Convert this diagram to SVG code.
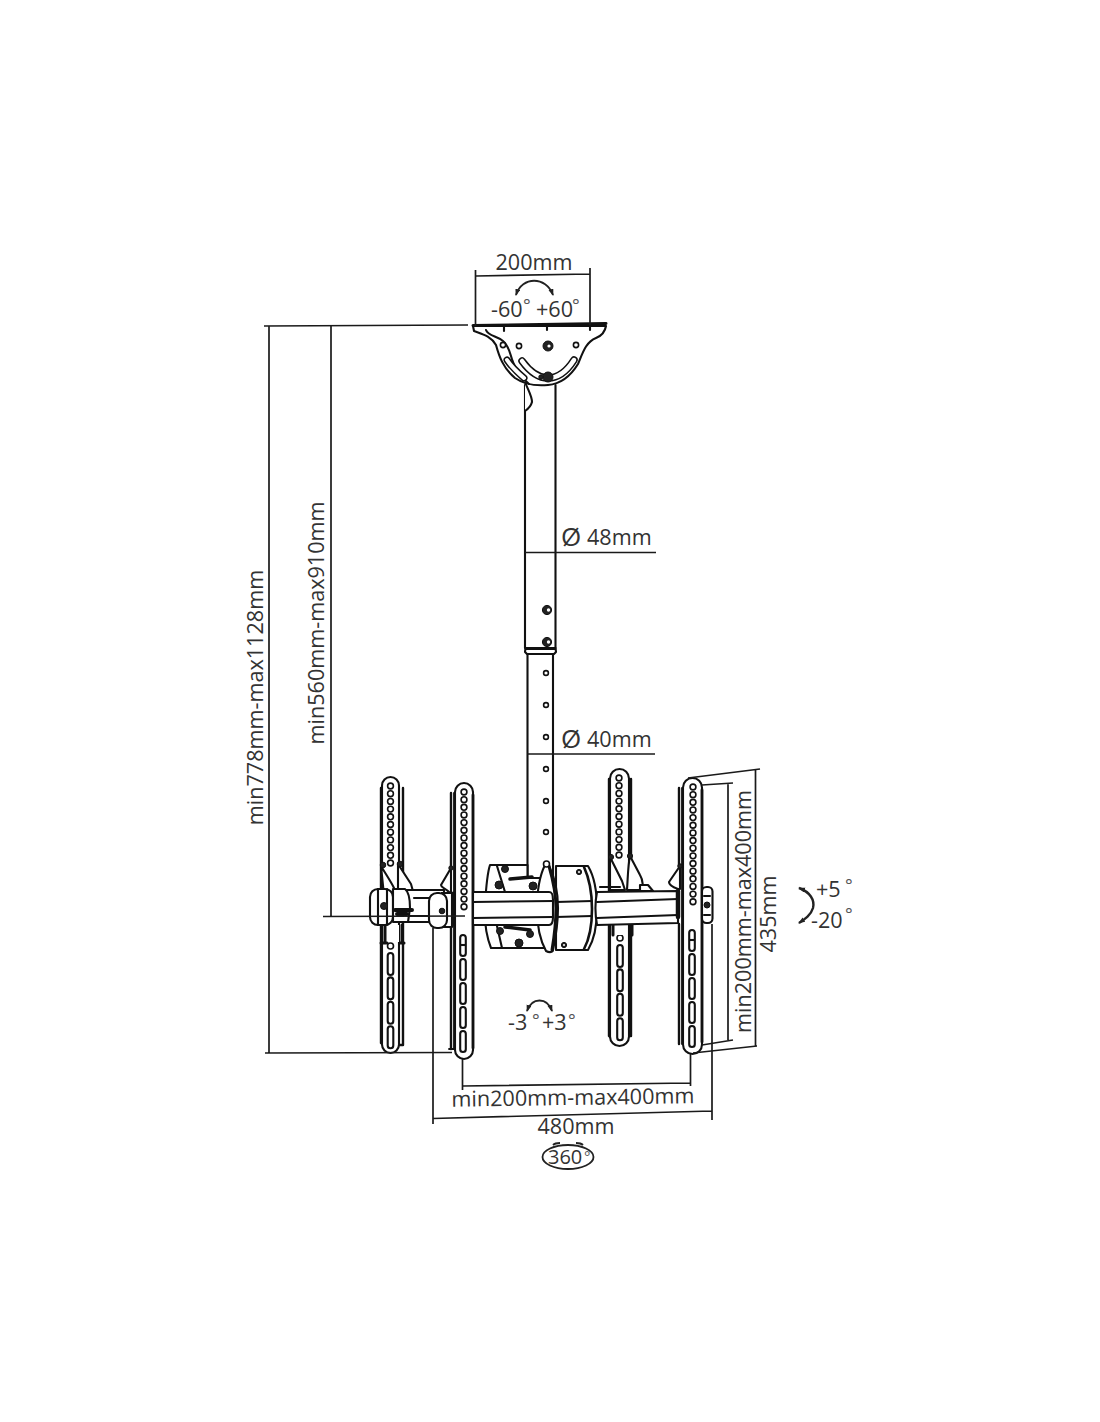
<svg xmlns="http://www.w3.org/2000/svg" width="1100" height="1422" viewBox="0 0 1100 1422">
<style>
.l{fill:none;stroke:#111;stroke-width:2.1;stroke-linecap:round;stroke-linejoin:round}
.t{fill:none;stroke:#111;stroke-width:3;stroke-linecap:round;stroke-linejoin:round}
.w{fill:#fff;stroke:#111;stroke-width:2.1;stroke-linejoin:round}
.d{fill:none;stroke:#1a1a1a;stroke-width:1.7;stroke-linecap:butt}
.h{fill:#fff;stroke:#111;stroke-width:1.6}
.b{fill:#222;stroke:#111;stroke-width:1}
.x{font-family:"Open Sans","Noto Sans",sans-serif;font-size:21.6px;fill:#333}
.o{font-size:18px;fill:#555}
.ar{fill:none;stroke:#222;stroke-width:1.8}
</style>
<defs>
<marker id="ah" markerUnits="userSpaceOnUse" markerWidth="8" markerHeight="6" refX="6" refY="2.5" orient="auto-start-reverse"><path d="M0 0L7 2.5L0 5Z" fill="#222"/></marker>
<g id="row11" class="h"><circle cy="0" r="2.9"/><circle cy="7.7" r="2.9"/><circle cy="15.4" r="2.9"/><circle cy="23.1" r="2.9"/><circle cy="30.8" r="2.9"/><circle cy="38.5" r="2.9"/><circle cy="46.2" r="2.9"/><circle cy="53.9" r="2.9"/><circle cy="61.6" r="2.9"/><circle cy="69.3" r="2.9"/><circle cy="77" r="2.9"/></g>
<g id="row16" class="h"><circle cy="0" r="2.9"/><circle cy="7.65" r="2.9"/><circle cy="15.3" r="2.9"/><circle cy="22.95" r="2.9"/><circle cy="30.6" r="2.9"/><circle cy="38.25" r="2.9"/><circle cy="45.9" r="2.9"/><circle cy="53.55" r="2.9"/><circle cy="61.2" r="2.9"/><circle cy="68.85" r="2.9"/><circle cy="76.5" r="2.9"/><circle cy="84.15" r="2.9"/><circle cy="91.8" r="2.9"/><circle cy="99.45" r="2.9"/><circle cy="107.1" r="2.9"/><circle cy="114.75" r="2.9"/></g>
<g id="slots" class="w"><rect x="-2.8" y="0" width="5.6" height="22" rx="2.8"/><rect x="-2.8" y="24.4" width="5.6" height="22" rx="2.8"/><rect x="-2.8" y="48.800" width="5.6" height="22" rx="2.8"/><rect x="-2.8" y="73.200" width="5.6" height="22" rx="2.8"/></g>
<g id="slotf" class="w"><rect x="-2.8" y="0" width="5.6" height="21" rx="2.8"/><path d="M-2.8 10H2.8" fill="none"/><rect x="-2.8" y="24" width="5.6" height="21" rx="2.8"/><rect x="-2.8" y="48" width="5.6" height="21" rx="2.8"/><rect x="-2.8" y="72" width="5.6" height="21" rx="2.8"/><rect x="-2.8" y="96" width="5.6" height="21" rx="2.8"/></g>
</defs>
<rect width="1100" height="1422" fill="#fff"/>

<g id="ceiling-bracket">
<path class="w" d="M474 331C482 334 491 336 496 345C499 356 503 368 515 378C525 385 537 386 548 385C561 384 570 377 578 364C583 352 586 342 596 338C601 336 605 332 606 326L473 326Z"/>
<path class="l" d="M486 330C488 336 497 336 503 341C510 347 510 355 513 362C516 370 522 378 529 384"/>
<path class="t" d="M473 325.5L606 323.5"/>
<path class="l" d="M504 326V331M547 325V330M590 325V330"/>
<path d="M507 360C511 366 517 372 524 378" fill="none" stroke="#111" stroke-width="7" stroke-linecap="round"/>
<path d="M507 360C511 366 517 372 524 378" fill="none" stroke="#fff" stroke-width="4" stroke-linecap="round"/>
<path d="M522 361C530 372 539 378 548 378C558 378 567 371 574 360" fill="none" stroke="#111" stroke-width="7.5" stroke-linecap="round"/>
<path d="M522 361C530 372 539 378 548 378C558 378 567 371 574 360" fill="none" stroke="#fff" stroke-width="4.500" stroke-linecap="round"/>
<circle class="h" cx="503" cy="345" r="2.6"/><circle class="h" cx="519" cy="346" r="2.6"/><circle class="h" cx="576" cy="345" r="2.6"/>
<circle class="b" cx="548" cy="346" r="5"/><circle cx="549" cy="346" r="1.6" fill="#fff"/>
<circle class="b" cx="548" cy="377" r="5"/><circle class="b" cx="541" cy="377" r="2.2"/>
</g>

<g id="pole">
<path class="l" d="M525 385V648M555.500 385V648"/>
<path class="w" d="M525 382C528 390 532 396 532 402C531 406 528 409 525 411"/>
<path class="w" d="M525.500 648H555.500L556 652L554 654H527L525 652Z"/>
<path class="t" d="M526 649H555" style="stroke-width:2"/>
<path class="l" d="M527.500 654V880M553 654V880"/>
<circle class="b" cx="547" cy="610" r="4.6"/><circle cx="548.500" cy="610" r="1.7" fill="#fff"/>
<circle class="b" cx="547" cy="642" r="4.6"/><circle cx="548.500" cy="642" r="1.7" fill="#fff"/>
<g class="h"><circle cx="546" cy="673" r="2.4"/><circle cx="546" cy="705" r="2.4"/><circle cx="546" cy="737" r="2.4"/><circle cx="546" cy="769" r="2.4"/><circle cx="546" cy="801" r="2.4"/><circle cx="546" cy="832" r="2.4"/></g>
</g>

<g id="panel-left-rear">
<path class="l" d="M381 788V1043L383 1045M403 788V1045H399" style="stroke-width:2.4"/>
<rect class="w" x="382" y="777" width="17" height="276" rx="8.5"/>
<use href="#row11" x="390.500" y="786"/>
<use href="#slots" x="390.500" y="953"/>
<circle class="h" cx="390.500" cy="946" r="3"/>
<path class="w" d="M381 866C385 873 390 880 394 888L396 905L385 905Z"/>
<path class="w" d="M398 864L411 884C413 890 414 898 413 905L397 908L398 889Z"/>
<circle class="b" cx="383" cy="865" r="2.800"/><circle class="b" cx="400" cy="864" r="2.800"/>
<rect x="384" y="925" width="15" height="17" fill="#fff"/>
<path class="t" d="M385 925V943M402 925V943M381 943H387M400 943H404"/>
</g>

<g id="left-bar">
<path class="w" d="M400 890H444V922H400Z"/>
<path class="l" d="M414 898H442M405 916H442"/>
</g>

<g id="knob-left-rear">
<rect class="w" x="370" y="889" width="23" height="36" rx="8"/>
<path class="l" d="M378 889V925M387 889V925"/>
<path class="w" d="M393 889H405C409 892 410 898 410 908L408 922H393Z"/>
<circle class="b" cx="384" cy="906" r="3.500"/>
<path class="t" d="M395 910H412M397 914H407" style="stroke-width:4"/>
</g>

<g id="panel-left-front">
<path class="w" d="M450 893C446 888 441 888 441 885L451 868V893Z"/>
<path class="l" d="M451 793V869M451 925V1049" style="stroke-width:2.400"/>
<path class="l" d="M454 793V1049M449 1049H454" style="stroke-width:1.800"/>
<rect class="w" x="455" y="783" width="18" height="276" rx="9"/>
<path class="l" d="M473 795V1048" style="stroke-width:2.800"/>
<use href="#row16" x="464" y="792"/>
<use href="#slotf" x="463" y="935"/>
<circle class="b" cx="451" cy="868" r="2.200"/>
</g>

<g id="knob-left-front">
<path class="w" d="M441 893H452V927H441"/>
<rect class="w" x="429" y="893" width="18" height="35" rx="8"/>
<path class="t" d="M453 893V925"/>
<circle class="b" cx="442" cy="911" r="2.800"/>
</g>

<g id="panel-right-rear">
<path class="l" d="M609 779V1036L611 1038M631 779V1036H627" style="stroke-width:2.400"/>
<rect class="w" x="610" y="769" width="19" height="277" rx="9.500"/>
<use href="#row11" x="619" y="778"/>
<use href="#slots" x="620" y="945"/>
<circle class="h" cx="620" cy="938" r="3"/>
<path class="w" d="M610 857L622 881L625 890H610Z"/>
<path class="w" d="M630 856C628 865 628 875 627 890H640C644 888 643 880 640 875L630 856Z"/>
<path class="w" d="M640 885H648L653 891H640Z"/>
<circle class="b" cx="611" cy="857" r="2.600"/><circle class="b" cx="630" cy="856" r="2.600"/>
<rect x="613" y="924" width="14" height="11" fill="#fff"/>
<path class="t" d="M613 924V935M632 923V935"/>
</g>

<g id="center-assembly">
<path class="w" d="M490 865H527.500V878H553V948H491C487 938 484 924 485 905C486 888 487 874 490 865Z"/>
<path class="l" d="M497 866L505 892M497 926L502 948"/>
<path class="t" d="M510 879L532 877M505 927L530 930" style="stroke-width:3.500"/>
<circle class="b" cx="505" cy="869" r="3.500"/><circle class="b" cx="499" cy="885" r="4"/><circle class="b" cx="533" cy="886" r="4"/><circle class="b" cx="500" cy="931" r="3.500"/><circle class="b" cx="530" cy="934" r="3.500"/><circle class="b" cx="519" cy="943" r="4"/>
<path class="w" d="M556 866H588C594 876 597 892 597 909C597 925 594 940 588 950H556Z"/>
<path class="l" d="M584 867C590 880 592 894 592 909C592 925 590 938 584 949" style="stroke-width:2.600"/>
<path class="w" d="M545 865C540 875 537 892 537 909C537 925 540 940 546 951C550 953 553 952 553 950C556 936 558 922 558 908C558 892 555 878 549 866Z"/>
<path class="l" d="M549 866C553 880 556 894 556 908C556 924 554 938 552 950" style="stroke-width:3"/>
<path class="w" d="M473 892L549 892C552 892 553 894 553 900V917C553 922 552 925 549 925H473Z"/>
<path class="l" d="M473 902L553 901M473 918L553 917M556 902L592 901M556 917L592 916"/>
<circle class="h" cx="546.500" cy="864" r="3"/>
<circle class="b" cx="579" cy="872" r="2.600"/><circle cx="579" cy="872" r="1" fill="#fff"/>
<circle class="b" cx="564" cy="945" r="2.600"/><circle cx="564" cy="945" r="1" fill="#fff"/>
<path class="w" d="M597 892L678 891V923L597 925C595 914 595 902 597 892Z"/>
<path class="l" d="M597 902L678 899M597 918L678 915M600 887H620"/>
</g>

<g id="panel-right-front">
<path class="w" d="M678 889C672 887 669 885 669 882L680 866V889Z"/>
<path class="l" d="M679 788V867M679 924V1044" style="stroke-width:2.400"/>
<path class="l" d="M682 788V1044" style="stroke-width:1.800"/>
<path class="t" d="M678 891V917" style="stroke-width:4.500"/>
<rect class="w" x="683" y="778" width="19" height="276" rx="9.500"/>
<path class="l" d="M702 790V1042" style="stroke-width:2.800"/>
<use href="#row16" x="693" y="787"/>
<use href="#slotf" x="692" y="930"/>
<rect class="w" x="702" y="887" width="10.500" height="36" rx="4.500"/>
<path class="l" d="M704 896H710M704 915H710"/>
<circle class="b" cx="707" cy="905" r="3"/>
<circle class="b" cx="680" cy="866" r="2.200"/>
</g>

<g id="connectors">
<path class="d" d="M264 326L468 325M269 326V1053M265 1053L452 1052.500"/>
<path class="d" d="M331 326V917M323 916.500L465 916"/>
<path class="d" d="M475.500 270V326M590 268V325M476 276L590 274"/>
<path class="d" d="M525 552.500H656M527 754H655"/>
<path class="d" d="M462.500 1059V1090M690.500 1054V1086M463 1086L690.500 1083"/>
<path class="d" d="M433 928V1124M712 924V1120M433 1118.500L712 1111"/>
<path class="d" d="M688 778L760 769M693 1053L757 1046M755.500 770V1046"/>
<path class="d" d="M702 785L733 783M702 1045L733 1040M728 783V1040"/>
</g>

<g id="rotation-arrows">
<path class="ar" d="M516 295C522 276 546 276 553 295" marker-end="url(#ah)" marker-start="url(#ah)"/>
<path class="ar" d="M527 1011C532 997 547 997 552 1011" marker-end="url(#ah)" marker-start="url(#ah)"/>
<path class="ar" d="M799 888C810 892 815 900 813 908C811 915 805 919 799 923" style="stroke-width:2.400" marker-start="url(#ah)" marker-end="url(#ah)"/>
<ellipse cx="568" cy="1157" rx="25.500" ry="12" fill="none" stroke="#222" stroke-width="1.800"/>
<path class="ar" d="M553 1145C555 1143 557 1143 560 1143M583 1145C581 1143 579 1143 576 1143" style="stroke-width:1.800"/>
</g>

<g id="labels">
<text class="x" x="534" y="270" text-anchor="middle">200mm</text>
<text class="x" x="491" y="317">-60</text><text class="x o" x="523" y="312">°</text>
<text class="x" x="536" y="317">+60</text><text class="x o" x="572" y="312">°</text>
<text class="x" x="263" y="697.500" text-anchor="middle" transform="rotate(-90 263 697.500)">min778mm-max1128mm</text>
<text class="x" x="324" y="623" text-anchor="middle" transform="rotate(-90 324 623)">min560mm-max910mm</text>
<text class="x" x="561" y="546" style="font-size:26px">Ø</text><text class="x" x="587" y="545">48mm</text>
<text class="x" x="561" y="748" style="font-size:26px">Ø</text><text class="x" x="587" y="747">40mm</text>
<text class="x" x="508" y="1030">-3</text><text class="x o" x="532" y="1027">°</text>
<text class="x" x="542" y="1030">+3</text><text class="x o" x="568" y="1027">°</text>
<text class="x" x="816" y="897">+5</text><text class="x o" x="845" y="892">°</text>
<text class="x" x="811" y="928">-20</text><text class="x o" x="845" y="921">°</text>
<text class="x" x="573" y="1105" text-anchor="middle" transform="rotate(-0.800 573 1105)">min200mm-max400mm</text>
<text class="x" x="576" y="1133.500" text-anchor="middle">480mm</text>
<text class="x" x="548" y="1164" style="font-size:20px">360</text><text class="x o" x="584" y="1162" style="font-size:15px">°</text>
<text class="x" x="751" y="911.500" text-anchor="middle" transform="rotate(-90 751 911.500)">min200mm-max400mm</text>
<text class="x" x="776" y="914" text-anchor="middle" transform="rotate(-90 776 914)">435mm</text>
</g>
</svg>
